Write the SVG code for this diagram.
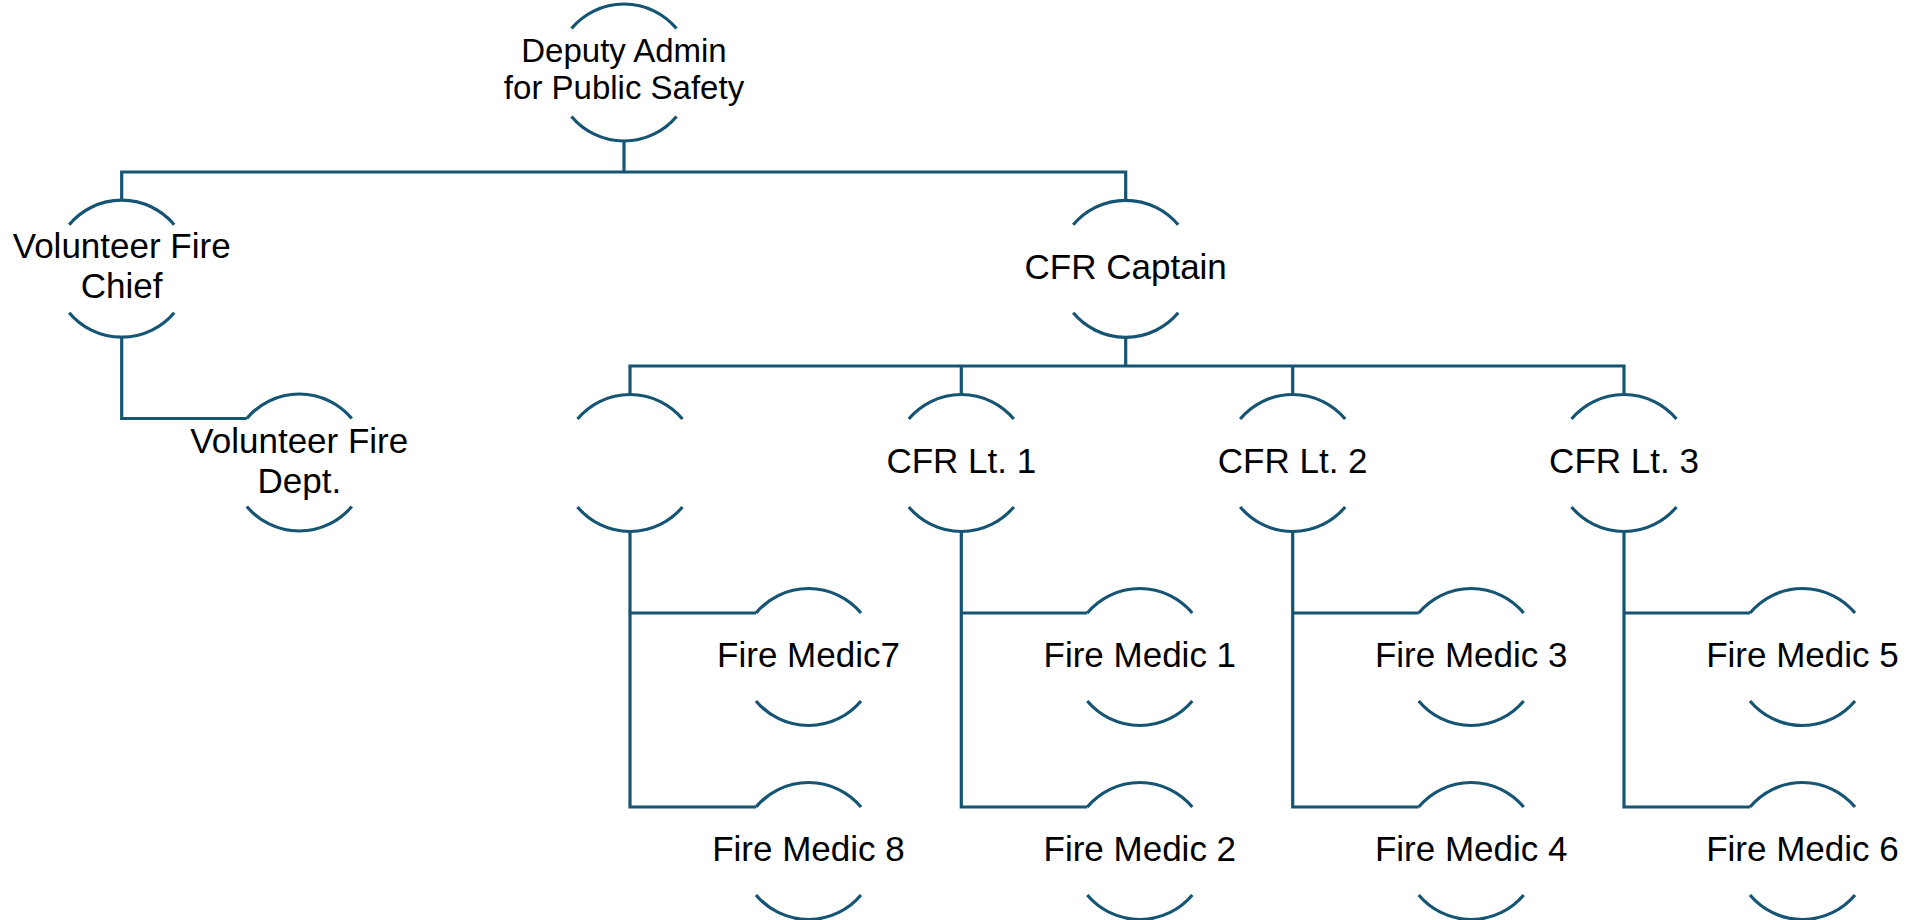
<svg xmlns="http://www.w3.org/2000/svg" xmlns:xlink="http://www.w3.org/1999/xlink" width="1911" height="920" viewBox="0 0 1911 920">
<style>
.arc{fill:none;stroke:#165473;stroke-width:3.2}
.con{fill:none;stroke:#165473;stroke-width:3.2;stroke-linejoin:miter}
text{font-family:"Liberation Sans",Arial,sans-serif;font-size:35px;fill:#000;text-anchor:middle}
.tight{font-size:33px}
</style>
<defs>
<path id="br" class="arc" d="M-52.5 -44 A68.5 68.5 0 0 1 52.5 -44 M-52.5 44 A68.5 68.5 0 0 0 52.5 44"/>
</defs>
<rect width="1911" height="920" fill="#fff"/>
<g id="connectors">
<path class="con" d="M121.7 200.5 V172 H1125.7 V200.5 M624 140.5 V172"/>
<path class="con" d="M121.7 337 V418.5 H246.8"/>
<path class="con" d="M1125.7 337.5 V366 M630 394.5 V366 H1624 V394.5 M961.3 366 V394.5 M1292.7 366 V394.5"/>
<path class="con" d="M630 531.5 V807 H756 M630 613 H756"/>
<path class="con" d="M961.3 531.5 V807 H1087.3 M961.3 613 H1087.3"/>
<path class="con" d="M1292.7 531.5 V807 H1418.7 M1292.7 613 H1418.7"/>
<path class="con" d="M1624 531.5 V807 H1750 M1624 613 H1750"/>
</g>
<g id="deputy"><use xlink:href="#br" x="624" y="72.5"/><text class="tight" x="624" y="62">Deputy Admin</text><text class="tight" x="624" y="99">for Public Safety</text></g>
<g id="chief"><use xlink:href="#br" x="121.7" y="268.7"/><text x="121.7" y="258.3">Volunteer Fire</text><text x="121.7" y="298.3">Chief</text></g>
<g id="dept"><use xlink:href="#br" x="299.3" y="462.5"/><text x="299.3" y="452.7">Volunteer Fire</text><text x="299.3" y="493.3">Dept.</text></g>
<g id="captain"><use xlink:href="#br" x="1125.7" y="268.8"/><text x="1125.7" y="278.5">CFR Captain</text></g>
<g id="empty"><use xlink:href="#br" x="630" y="463"/></g>
<g id="lt1"><use xlink:href="#br" x="961.3" y="463"/><text x="961.3" y="472.7">CFR Lt. 1</text></g>
<g id="lt2"><use xlink:href="#br" x="1292.7" y="463"/><text x="1292.7" y="472.7">CFR Lt. 2</text></g>
<g id="lt3"><use xlink:href="#br" x="1624" y="463"/><text x="1624" y="472.7">CFR Lt. 3</text></g>
<g id="fm7"><use xlink:href="#br" x="808.5" y="657"/><text x="808.5" y="666.7">Fire Medic7</text></g>
<g id="fm8"><use xlink:href="#br" x="808.5" y="851"/><text x="808.5" y="860.5">Fire Medic 8</text></g>
<g id="fm1"><use xlink:href="#br" x="1139.8" y="657"/><text x="1139.8" y="666.7">Fire Medic 1</text></g>
<g id="fm2"><use xlink:href="#br" x="1139.8" y="851"/><text x="1139.8" y="860.5">Fire Medic 2</text></g>
<g id="fm3"><use xlink:href="#br" x="1471.2" y="657"/><text x="1471.2" y="666.7">Fire Medic 3</text></g>
<g id="fm4"><use xlink:href="#br" x="1471.2" y="851"/><text x="1471.2" y="860.5">Fire Medic 4</text></g>
<g id="fm5"><use xlink:href="#br" x="1802.5" y="657"/><text x="1802.5" y="666.7">Fire Medic 5</text></g>
<g id="fm6"><use xlink:href="#br" x="1802.5" y="851"/><text x="1802.5" y="860.5">Fire Medic 6</text></g>
</svg>
